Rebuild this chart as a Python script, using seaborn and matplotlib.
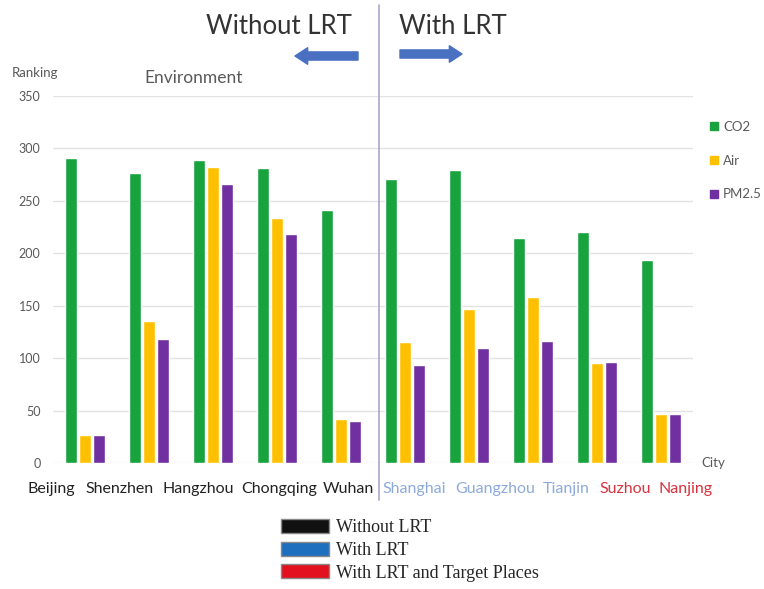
import matplotlib
matplotlib.use("Agg")
import matplotlib.pyplot as plt
import matplotlib.patches as mpatches
import numpy as np
import pandas as pd
import seaborn as sns

# Environment rankings per city (lower rank = better)
cities = ["Beijing", "Shenzhen", "Hangzhou", "Chongqing", "Wuhan",
          "Shanghai", "Guangzhou", "Tianjin", "Suzhou", "Nanjing"]
co2 = [291, 277, 289, 281, 241, 271, 279, 215, 220, 194]
air = [27, 135, 282, 234, 42, 115, 147, 158, 95, 47]
pm25 = [27, 118, 266, 218, 40, 93, 110, 116, 96, 47]
metrics = ["CO2", "Air", "PM2.5"]
metric_colors = ["#19a33f", "#ffc000", "#7030a0"]

# city label colours: no LRT / with LRT / with LRT and target places
city_colors = ["#222222"] * 5 + ["#8eaadb"] * 3 + ["#d9323f"] * 2
group_labels = ["Without LRT", "With LRT", "With LRT and Target Places"]
group_colors = ["#111111", "#1f6fbf", "#e3101f"]

df = pd.DataFrame({
    "City": np.repeat(cities, 3),
    "Metric": metrics * len(cities),
    "Ranking": [v for trio in zip(co2, air, pm25) for v in trio],
})

sns.set_style("white")
plt.rcParams["font.family"] = ["Lato", "DejaVu Sans"]

W, H = 764, 589
fig = plt.figure(figsize=(W / 100, H / 100), dpi=100)
ax = fig.add_axes([53 / W, 1 - 463 / H, (693 - 53) / W, (463 - 96) / H])

sns.barplot(data=df, x="City", y="Ranking", hue="Metric", order=cities,
            hue_order=metrics, palette=metric_colors, width=0.64, gap=0.14,
            saturation=1, legend=False, ax=ax)

ax.set_ylim(0, 350)
ax.set_xlim(-0.5, len(cities) - 0.5)
ax.set_yticks(np.arange(0, 351, 50))
ax.yaxis.grid(True, color="#e3e3e3", linewidth=1)
ax.set_axisbelow(True)
for s in ax.spines.values():
    s.set_visible(False)
ax.set_xlabel("")
ax.set_ylabel("")
ax.tick_params(axis="y", length=0, labelsize=9, labelcolor="#595959", pad=9)
ax.tick_params(axis="x", length=0, labelbottom=False)

# city names run as a single row of text beneath the bars
label_left_px = [28, 85, 163, 241, 323, 382, 455, 543, 599, 659]
for name, c, xp in zip(cities, city_colors, label_left_px):
    fig.text(xp / W, 1 - 489 / H, name, fontsize=11.5, color=c,
             ha="left", va="center")

# axis captions
fig.text(12 / W, 1 - 73 / H, "Ranking", fontsize=9.5, color="#595959", va="center")
fig.text(194 / W, 1 - 78 / H, "Environment", fontsize=12.5, color="#595959",
         ha="center", va="center")
fig.text(701 / W, 1 - 463 / H, "City", fontsize=9.5, color="#595959", va="center")

# divider between the two groups of cities
fig.add_artist(plt.Line2D([379 / W, 379 / W], [1 - 5 / H, 1 - 500 / H],
                          color="#a8a8cc", linewidth=1.2))

fig.text(352 / W, 1 - 27 / H, "Without LRT", fontsize=18.5, color="#333333",
         ha="right", va="center")
fig.text(399 / W, 1 - 27 / H, "With LRT", fontsize=18.5, color="#333333",
         ha="left", va="center")

arrow_style = "simple,head_length=0.65,head_width=0.85,tail_width=0.42"
for x0, x1, yc in [(358, 295, 56), (400, 462, 54)]:
    fig.add_artist(mpatches.FancyArrowPatch(
        (x0 / W, 1 - yc / H), (x1 / W, 1 - yc / H), transform=fig.transFigure,
        arrowstyle=arrow_style, mutation_scale=14, color="#4a70c2",
        shrinkA=0, shrinkB=0))

# metric legend on the right
metric_handles = [mpatches.Patch(color=c, label=m)
                  for m, c in zip(metrics, metric_colors)]
fig.legend(handles=metric_handles, loc="upper left",
           bbox_to_anchor=(698 / W, 1 - 109 / H), frameon=False, fontsize=9.5,
           handlelength=0.6, handleheight=0.6, handletextpad=0.4,
           labelspacing=1.65, labelcolor="#595959")

# city group legend below the chart
group_handles = [mpatches.FancyBboxPatch((0, 0), 1, 1, facecolor=c,
                                         edgecolor="#888888", label=g)
                 for g, c in zip(group_labels, group_colors)]
fig.legend(handles=group_handles, loc="upper left",
           bbox_to_anchor=(265 / W, 1 - 503 / H), frameon=False,
           prop={"family": "Liberation Serif", "size": 13},
           handlelength=2.66, handleheight=0.8, handletextpad=0.4,
           labelspacing=0.3)

fig.savefig("out.png", dpi=100)
